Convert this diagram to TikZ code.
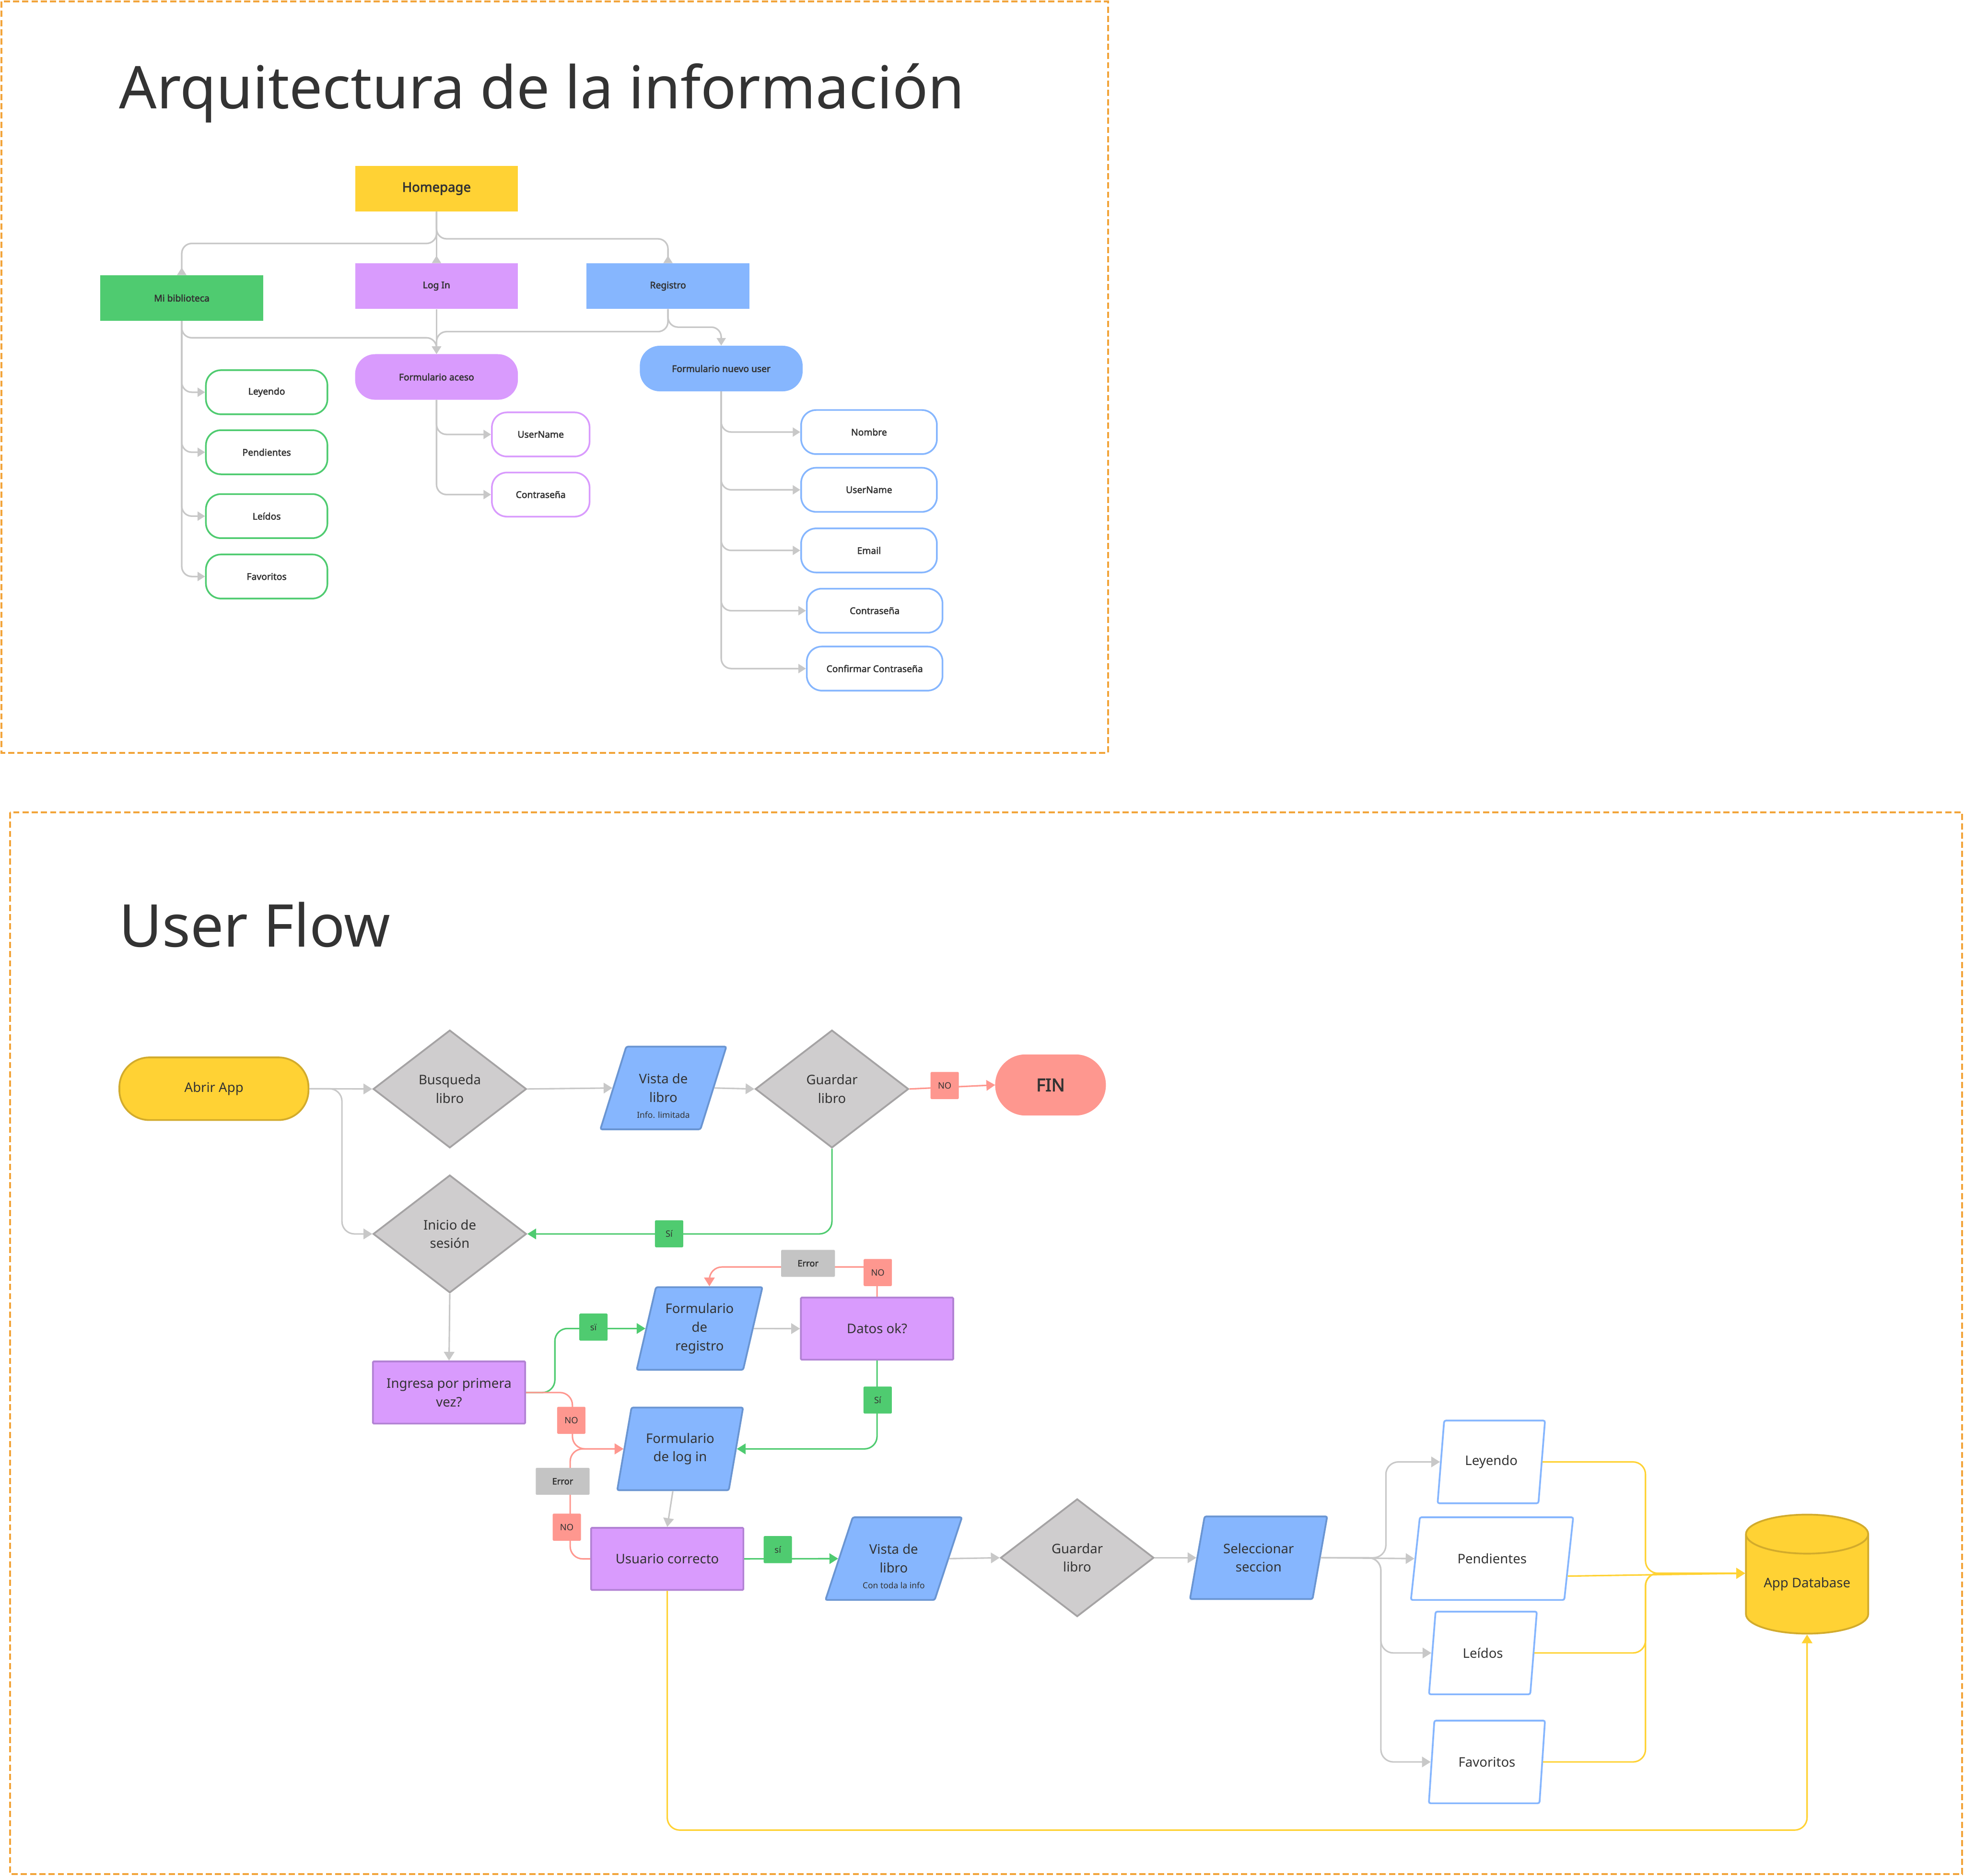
\documentclass[tikz,border=0pt]{standalone}
\usepackage{fontspec}
\setmainfont{Noto Sans}[BoldFont={Noto Sans}, BoldFeatures={FakeBold=2.6}]
\usepackage{tikz}
\usetikzlibrary{shapes.geometric}
\usetikzlibrary{arrows.meta}
\usetikzlibrary{calc}

\definecolor{frameorange}{HTML}{F2A43A}
\definecolor{inktext}{HTML}{333333}
\definecolor{hpyellow}{HTML}{FFD234}
\definecolor{ylborder}{HTML}{D2AB2C}
\definecolor{libgreen}{HTML}{4FCB70}
\definecolor{logpurple}{HTML}{D99BFD}
\definecolor{plborder}{HTML}{B282D4}
\definecolor{regblue}{HTML}{86B6FE}
\definecolor{blborder}{HTML}{6A95D2}
\definecolor{nored}{HTML}{FE978F}
\definecolor{errgray}{HTML}{C4C4C4}
\definecolor{dmfill}{HTML}{CFCDCE}
\definecolor{dmborder}{HTML}{A5A3A4}
\definecolor{linkgray}{HTML}{C8C8C8}

\tikzstyle{frame} = [draw=frameorange, line width=2.2pt, dash pattern=on 7pt off 3.5pt]
\tikzstyle{bigtitle} = [anchor=base west, inner sep=0pt, text=inktext, font=\fontsize{67}{80}\selectfont]
% information architecture
\tikzstyle{treebox} = [rectangle, minimum width=6.5cm, minimum height=1.82cm, inner sep=0pt,
  text=inktext, font=\fontsize{10.5}{13}\selectfont\bfseries]
\tikzstyle{treeform} = [treebox, rounded corners=0.8cm]
\tikzstyle{treeleaf} = [treebox, draw, fill=white, line width=1.9pt, rounded corners=0.6cm, minimum height=1.76cm]
\tikzstyle{treelink} = [draw=linkgray, line width=1.8pt, rounded corners=0.4cm, -{Triangle[length=0.3cm,width=0.36cm]}]
\tikzstyle{treeback} = [treelink, -{Triangle[reversed,length=0.3cm,width=0.36cm]}]
% user flow
\tikzstyle{flowtext} = [text=inktext, align=center, inner sep=0pt, font=\fontsize{15}{21}\selectfont]
\tikzstyle{terminal} = [flowtext, rectangle, rounded corners=1.2cm, minimum width=7.55cm, minimum height=2.5cm,
  draw=ylborder, fill=hpyellow, line width=2pt]
\tikzstyle{decision} = [flowtext, diamond, minimum width=6.12cm, minimum height=4.7cm, draw=dmborder, fill=dmfill, line width=2pt]
\tikzstyle{screen} = [flowtext, trapezium, trapezium stretches=true, minimum height=3.3cm,
  draw=blborder, fill=regblue, line width=2pt, rounded corners=2pt]
\tikzstyle{process} = [flowtext, rectangle, minimum width=6.08cm, minimum height=2.48cm, draw=plborder, fill=logpurple,
  line width=2pt, rounded corners=1pt]
\tikzstyle{section} = [screen, draw=regblue, fill=white, minimum height=3.3cm]
\tikzstyle{tag} = [rectangle, rounded corners=1pt, inner sep=0pt, minimum width=1.13cm, minimum height=1.08cm,
  text=inktext, font=\fontsize{10}{12}\selectfont]
\tikzstyle{flowlink} = [draw=linkgray, line width=1.7pt, rounded corners=0.5cm, -{Triangle[length=0.35cm,width=0.42cm]}]
\tikzstyle{yeslink} = [flowlink, draw=libgreen]
\tikzstyle{nolink} = [flowlink, draw=nored]
\tikzstyle{dblink} = [flowlink, draw=hpyellow]

\begin{document}
\begin{tikzpicture}[x=0.05cm, y=-0.05cm]
\useasboundingbox (0,0) rectangle (1568,1497.2);

\draw[frame] (1.2,1.2) rectangle (884.5,601);
\draw[frame] (8,648.5) rectangle (1566.5,1496);

\node[bigtitle] (titlearq) at (95,86.8) {Arquitectura de la información};
\node[bigtitle] (titleflow) at (95,756) {User Flow};

% tree
\node[treebox, fill=hpyellow, font=\fontsize{15}{18}\selectfont\bfseries] (home) at (348.5,150.6) {Homepage};
\node[treebox, fill=libgreen] (library) at (145.1,237.9) {Mi biblioteca};
\node[treebox, fill=logpurple] (login) at (348.5,228.4) {Log In};
\node[treebox, fill=regblue] (signin) at (533.3,228.4) {Registro};
\node[treeform, fill=logpurple] (access) at (348.5,300.9) {Formulario aceso};
\node[treeform, fill=regblue] (newuser) at (575.8,294.2) {Formulario nuevo user};

\node[treeleaf, draw=libgreen, minimum width=4.85cm] (libreading) at (212.9,313.1) {Leyendo};
\node[treeleaf, draw=libgreen, minimum width=4.85cm] (libpending) at (212.9,361) {Pendientes};
\node[treeleaf, draw=libgreen, minimum width=4.85cm] (libread) at (212.9,412) {Leídos};
\node[treeleaf, draw=libgreen, minimum width=4.85cm] (libfav) at (212.9,460.2) {Favoritos};

\node[treeleaf, draw=logpurple, minimum width=3.9cm] (acuser) at (431.7,346.8) {UserName};
\node[treeleaf, draw=logpurple, minimum width=3.9cm] (acpass) at (431.7,394.8) {Contraseña};

\node[treeleaf, draw=regblue, minimum width=5.42cm] (nuname) at (693.8,344.9) {Nombre};
\node[treeleaf, draw=regblue, minimum width=5.42cm] (nuuser) at (693.8,391) {UserName};
\node[treeleaf, draw=regblue, minimum width=5.42cm] (numail) at (693.8,439.4) {Email};
\node[treeleaf, draw=regblue, minimum width=5.42cm] (nupass) at (698.3,487.5) {Contraseña};
\node[treeleaf, draw=regblue, minimum width=5.42cm] (nuconfirm) at (698.3,533.7) {Confirmar Contraseña};

\draw[treeback] (home.south) -- ++(0,25.4) -| (library.north);
\draw[treeback] (home.south) -- (login.north);
\draw[treeback] (home.south) -- ++(0,21.7) -| (signin.north);
\draw[treelink] (login.south) -- (access.north);
\draw[treelink] (library.south) -- ++(0,13.4) -| (access.north);
\draw[treelink] (signin.south) -- ++(0,18) -| (access.north);
\draw[treelink] (signin.south) -- ++(0,14.4) -| (newuser.north);

\draw[treelink] (library.south) |- (libreading.west);
\draw[treelink] (library.south) |- (libpending.west);
\draw[treelink] (library.south) |- (libread.west);
\draw[treelink] (library.south) |- (libfav.west);
\draw[treelink] (access.south) |- (acuser.west);
\draw[treelink] (access.south) |- (acpass.west);
\draw[treelink] (newuser.south) |- (nuname.west);
\draw[treelink] (newuser.south) |- (nuuser.west);
\draw[treelink] (newuser.south) |- (numail.west);
\draw[treelink] (newuser.south) |- (nupass.west);
\draw[treelink] (newuser.south) |- (nuconfirm.west);

% user flow
\node[terminal] (open) at (170.8,869.1) {Abrir App};
\node[decision] (search) at (359.1,869.3) {Busqueda\\libro};
\node[screen, trapezium left angle=72.9, trapezium right angle=107.1, minimum width=5.03cm] (preview) at (529.6,868.5)
  {\mbox{}\\[8pt]Vista de\\libro\\[-3pt]{\fontsize{9.5}{11}\selectfont Info. limitada}};
\node[decision] (save) at (664.2,869.3) {Guardar\\libro};
\node[terminal, fill=nored, draw=nored, minimum width=4.35cm, minimum height=2.37cm, rounded corners=1.18cm,
  font=\fontsize{20}{24}\selectfont\bfseries] (fin) at (838.7,866.1) {FIN};
\node[decision] (session) at (359.1,985) {Inicio de\\sesión};
\node[process] (firsttime) at (358.5,1111.6) {Ingresa por primera\\vez?};
\node[screen, trapezium left angle=73.2, trapezium right angle=106.8, minimum width=5.02cm] (signup) at (558.5,1060.5)
  {Formulario\\de\\registro};
\node[process] (checkdata) at (700.2,1060.6) {Datos ok?};
\node[screen, trapezium left angle=72.4, trapezium right angle=107.6, minimum width=5.05cm] (loginform) at (543,1156.6)
  {Formulario\\de log in};
\node[process] (userok) at (532.7,1244.4) {Usuario correcto};
\node[screen, trapezium left angle=71, trapezium right angle=109, minimum width=5.45cm] (fullview) at (713.5,1244.2)
  {\mbox{}\\[8pt]Vista de\\libro\\[-3pt]{\fontsize{9.5}{11}\selectfont Con toda la info}};
\node[decision] (save2) at (860,1243.5) {Guardar\\libro};
\node[screen, trapezium left angle=71.5, trapezium right angle=108.5, minimum width=5.48cm] (section) at (1004.8,1243.5)
  {Seleccionar\\seccion};

\node[section, trapezium left angle=74.5, trapezium right angle=105.5, minimum width=4.29cm] (sreading) at (1190.6,1167) {Leyendo};
\node[section, trapezium left angle=67.2, trapezium right angle=112.8, minimum width=6.49cm] (spending) at (1191.2,1244.2) {Pendientes};
\node[section, trapezium left angle=74.7, trapezium right angle=105.3, minimum width=4.31cm] (sread) at (1183.9,1319.5) {Leídos};
\node[section, trapezium left angle=73.2, trapezium right angle=106.8, minimum width=4.64cm] (sfav) at (1187.1,1406.5) {Favoritos};

\node[flowtext, cylinder, shape border rotate=90, aspect=0.45, minimum width=4.88cm, minimum height=4.75cm,
  draw=ylborder, fill=hpyellow, line width=2pt] (appdb) at (1442.7,1264.7) {App Database};
\coordinate (dbjoin) at (1313.7,1255.9);

\draw[flowlink] (open.east) -- (search.west);
\draw[flowlink] (open.east) -- ++(26,0) |- (session.west);
\draw[flowlink] (search.east) -- (preview.left side);
\draw[flowlink] (preview.right side) -- (save.west);
\draw[nolink] (save.east) -- (fin.west);
\draw[yeslink] (save.south) |- (session.east);
\draw[flowlink] (session.south) -- (firsttime.north);
\draw[yeslink] (firsttime.east) -- ++(23,0) |- (signup.left side);
\draw[nolink] (firsttime.east) -- ++(37,0) |- (loginform.left side);
\draw[flowlink] (signup.right side) -- (checkdata.west);
\draw[nolink] (checkdata.north) -- ++(0,-23.7) -| (signup.top side);
\draw[yeslink] (checkdata.south) |- (loginform.right side);
\draw[flowlink] (loginform.bottom side) -- (userok.north);
\draw[nolink] (userok.west) -- ++(-16,0) |- (loginform.left side);
\draw[yeslink] (userok.east) -- (fullview.left side);
\draw[flowlink] (fullview.right side) -- (save2.west);
\draw[flowlink] (save2.east) -- (section.left side);
\draw[flowlink] (section.right side) -- ++(52,0) |- (sreading.left side);
\draw[flowlink] (section.right side) -- (spending.left side);
\draw[flowlink] (section.right side) -- ++(48,0) |- (sread.left side);
\draw[flowlink] (section.right side) -- ++(48,0) |- (sfav.left side);
\draw[dblink] (sreading.right side) -| (dbjoin) -- (appdb.west |- dbjoin);
\draw[dblink] (spending.-13) -- (appdb.west |- dbjoin);
\draw[dblink] (sread.right side) -| (dbjoin) -- (appdb.west |- dbjoin);
\draw[dblink] (sfav.right side) -| (dbjoin) -- (appdb.west |- dbjoin);
\draw[dblink] (userok.south) -- ++(0,191) -| (appdb.south);

\node[tag, fill=nored] (nofin) at (754.2,866.5) {NO};
\node[tag, fill=libgreen] (yessession) at (534.2,984.9) {Sí};
\node[tag, fill=errgray, minimum width=2.15cm, font=\fontsize{10}{12}\selectfont\bfseries] (errsignup) at (645.1,1008.5) {Error};
\node[tag, fill=nored] (nocheck) at (700.8,1015.8) {NO};
\node[tag, fill=libgreen] (yessignup) at (473.8,1059.4) {sï};
\node[tag, fill=nored] (nofirst) at (456.1,1133.8) {NO};
\node[tag, fill=libgreen] (yescheck) at (700.7,1117.6) {Sí};
\node[tag, fill=errgray, minimum width=2.15cm, font=\fontsize{10}{12}\selectfont\bfseries] (errlogin) at (449.2,1182.5) {Error};
\node[tag, fill=nored] (nouser) at (452.5,1219.1) {NO};
\node[tag, fill=libgreen] (yesuser) at (621,1237) {sí};
\end{tikzpicture}
\end{document}
